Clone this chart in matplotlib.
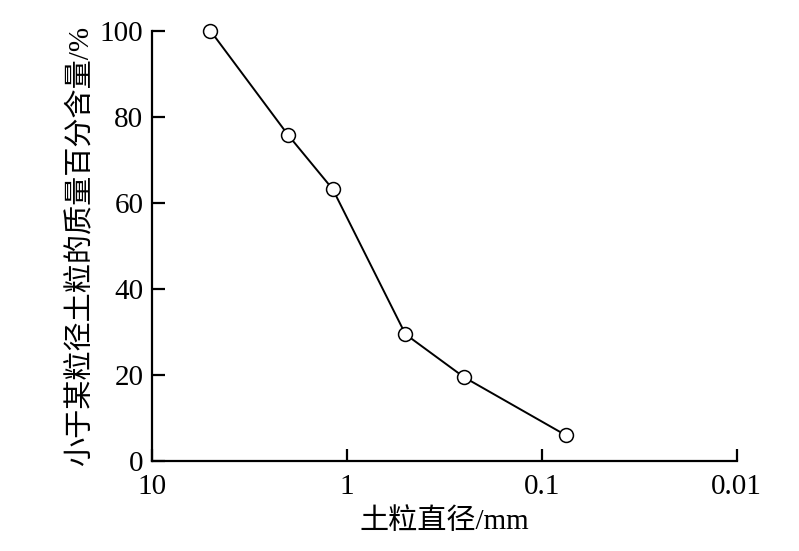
import matplotlib
matplotlib.use("Agg")
from matplotlib import pyplot as plt

# grain size (mm) and cumulative percentage passing
diameters = [5.0, 2.0, 1.18, 0.5, 0.25, 0.075]
percent_finer = [100, 75.8, 63.2, 29.5, 19.5, 6.0]

x_ticks = [10, 1, 0.1, 0.01]
x_tick_labels = ["10", "1", "0.1", "0.01"]
y_ticks = [0, 20, 40, 60, 80, 100]

fonts = ["Liberation Serif", "Noto Sans CJK SC", "DejaVu Sans"]
plt.rcParams["font.family"] = fonts

fig = plt.figure(figsize=(7.99, 5.51), dpi=100)
ax = fig.add_axes([0.190, 0.163, 0.732, 0.781])

ax.plot(diameters, percent_finer, color="black", linewidth=1.4,
        marker="o", markersize=10, markerfacecolor="white",
        markeredgecolor="black", markeredgewidth=1.1, clip_on=False, zorder=3)

ax.set_xscale("log")
ax.set_xlim(10, 0.01)
ax.set_ylim(0, 100)
ax.set_xticks(x_ticks)
ax.set_xticklabels(x_tick_labels)
ax.set_yticks(y_ticks)
ax.minorticks_off()

for side in ("top", "right"):
    ax.spines[side].set_visible(False)
for side in ("left", "bottom"):
    ax.spines[side].set_linewidth(1.6)

ax.tick_params(direction="in", length=9, width=1.6, labelsize=21)
ax.tick_params(axis="x", pad=9)
ax.tick_params(axis="y", pad=6)

ax.set_xlabel("土粒直径/mm", fontsize=21, labelpad=6)
ax.set_ylabel("小于某粒径土粒的质量百分含量/%", fontsize=21, labelpad=4)

fig.savefig("out.png", dpi=100)
